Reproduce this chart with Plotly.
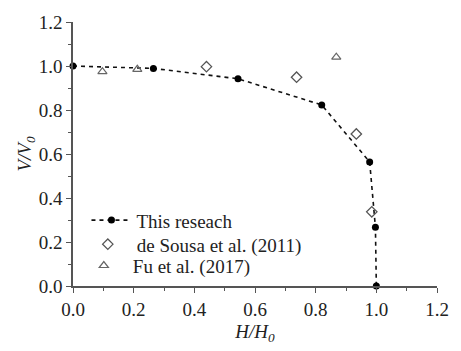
import plotly.graph_objects as go

# Normalised capacity curves: V/V0 against H/H0
this_h = [0.0, 0.265, 0.544, 0.82, 0.978, 0.997, 1.0]
this_v = [1.0, 0.989, 0.942, 0.823, 0.564, 0.267, 0.0]

sousa_h = [0.44, 0.737, 0.934, 0.985]
sousa_v = [0.997, 0.949, 0.691, 0.337]

fu_h = [0.097, 0.212, 0.868]
fu_v = [0.974, 0.985, 1.04]

tick_vals = [0.0, 0.2, 0.4, 0.6, 0.8, 1.0, 1.2]
tick_text = ["0.0", "0.2", "0.4", "0.6", "0.8", "1.0", "1.2"]

serif = "Liberation Serif, Times New Roman, serif"
axis_col = "#555555"
text_col = "#222222"

fig = go.Figure()
fig.add_trace(go.Scatter(
    x=this_h, y=this_v, mode="lines+markers", name="This reseach",
    line=dict(color="#111111", width=1.6, dash="4px,4px"),
    marker=dict(symbol="circle", size=7, color="#000000"),
    cliponaxis=False, legend="legend",
))
fig.add_trace(go.Scatter(
    x=sousa_h, y=sousa_v, mode="markers", name="de Sousa et al. (2011)",
    marker=dict(symbol="diamond-open", size=8, color="#555555", line=dict(width=1.3)),
    cliponaxis=False, legend="legend2",
))
fig.add_trace(go.Scatter(
    x=fu_h, y=fu_v, mode="markers", name="Fu et al. (2017)",
    marker=dict(symbol="triangle-up-open", size=8, color="#666666", line=dict(width=1.2)),
    cliponaxis=False, legend="legend3",
))

axis_common = dict(
    range=[0, 1.2], tickmode="array", tickvals=tick_vals, ticktext=tick_text,
    showline=True, linecolor=axis_col, linewidth=1.5, mirror=False,
    ticks="outside", ticklen=5, tickwidth=1.3, tickcolor=axis_col,
    minor=dict(ticks="outside", ticklen=3, tickwidth=1, tickcolor=axis_col, dtick=0.1, tick0=0),
    showgrid=False, zeroline=False,
    tickfont=dict(family=serif, size=19, color=text_col),
)

fig.update_xaxes(**axis_common,
                 title=dict(text="<i>H/H<sub>0</sub></i>", standoff=6,
                            font=dict(family=serif, size=19, color=text_col)))
fig.update_yaxes(**axis_common,
                 title=dict(text="<i>V/V<sub>0</sub></i>", standoff=2,
                            font=dict(family=serif, size=19, color=text_col)))


def legend_box(x, y, item_w=48):
    return dict(x=x, y=y, xanchor="left", yanchor="middle", itemwidth=item_w,
                bgcolor="rgba(0,0,0,0)",
                font=dict(family=serif, size=19, color=text_col))


fig.update_layout(
    width=461, height=351,
    margin=dict(l=73, r=12, t=17, b=61),
    paper_bgcolor="white", plot_bgcolor="white",
    showlegend=True,
    legend=legend_box(0.037, 0.249, item_w=40),
    legend2=legend_box(0.016, 0.158),
    legend3=legend_box(0.005, 0.077),
)

fig.write_html("out.html")
